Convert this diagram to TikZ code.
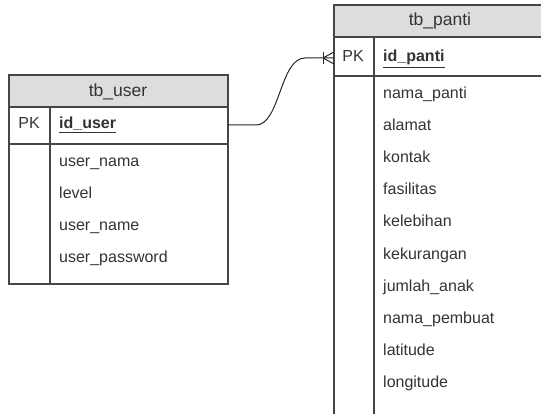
\documentclass[tikz,border=0pt]{standalone}
\usepackage{fontspec}
\setmainfont{Liberation Sans}
\definecolor{linec}{RGB}{70,70,70}
\definecolor{hdr}{RGB}{221,221,221}
\definecolor{txt}{RGB}{51,51,51}
\begin{document}
\begin{tikzpicture}[x=1pt,y=-1pt,
  tline/.style={draw=linec,line width=1.4pt},
  conn/.style={draw=black!85,line width=1pt},
  ftxt/.style={anchor=west,text=txt,font=\fontsize{16}{18}\selectfont,inner sep=0pt,text height=11.5pt,text depth=3.5pt},
  ttxt/.style={text=txt,font=\fontsize{17.5}{19}\selectfont,inner sep=0pt,text height=12.5pt,text depth=4pt},
  pktxt/.style={text=txt,font=\fontsize{16}{18}\selectfont,inner sep=0pt,text height=11.5pt,text depth=3.5pt},
  idtxt/.style={anchor=west,text=txt,font=\fontsize{16}{18}\selectfont\bfseries,inner sep=0pt,text height=11.5pt,text depth=3.5pt}]
\useasboundingbox (0,0) rectangle (541,414);
\begin{scope}
\clip (0,0) rectangle (541,414);
% tb_user
\fill[hdr] (9,75) rectangle (228,107);
\draw[tline] (9,75) rectangle (228,284);
\draw[tline] (9,107) -- (228,107);
\draw[tline] (9,144) -- (228,144);
\draw[tline] (50,107) -- (50,284);
\node[ttxt] (tuser) at (118,92) {tb\_user};
\node[pktxt] (pku) at (29,125) {PK};
\node[idtxt] (iduser) at (59,125) {\underline{id\_user}};
\node[ftxt] (u1) at (59,163) {user\_nama};
\node[ftxt] (u2) at (59,195) {level};
\node[ftxt] (u3) at (59,227) {user\_name};
\node[ftxt] (u4) at (59,259) {user\_password};
% tb_panti
\fill[hdr] (334,5) rectangle (548,37);
\draw[tline] (334,5) rectangle (548,430);
\draw[tline] (334,37) -- (548,37);
\draw[tline] (334,76) -- (548,76);
\draw[tline] (374,37) -- (374,430);
\node[ttxt] (tpanti) at (440,21) {tb\_panti};
\node[pktxt] (pkp) at (353,58) {PK};
\node[idtxt] (idpanti) at (383,58) {\underline{id\_panti}};
\node[ftxt] (p1) at (383,95) {nama\_panti};
\node[ftxt] (p2) at (383,127) {alamat};
\node[ftxt] (p3) at (383,159) {kontak};
\node[ftxt] (p4) at (383,191) {fasilitas};
\node[ftxt] (p5) at (383,223) {kelebihan};
\node[ftxt] (p6) at (383,255) {kekurangan};
\node[ftxt] (p7) at (383,287) {jumlah\_anak};
\node[ftxt] (p8) at (383,319) {nama\_pembuat};
\node[ftxt] (p9) at (383,351) {latitude};
\node[ftxt] (p10) at (383,383) {longitude};
\end{scope}
% connector
\coordinate (userpk) at (228,125);
\coordinate (pantipk) at (334,58);
\coordinate (bar) at (323,58);
\draw[conn] (userpk) -- ++(28,0) .. controls (280,125) and (280,58) .. (305,58) -- (pantipk);
\draw[conn] (323,52) -- (323,64);
\draw[conn] (bar) -- (334,52);
\draw[conn] (bar) -- (334,64);
\end{tikzpicture}
\end{document}
